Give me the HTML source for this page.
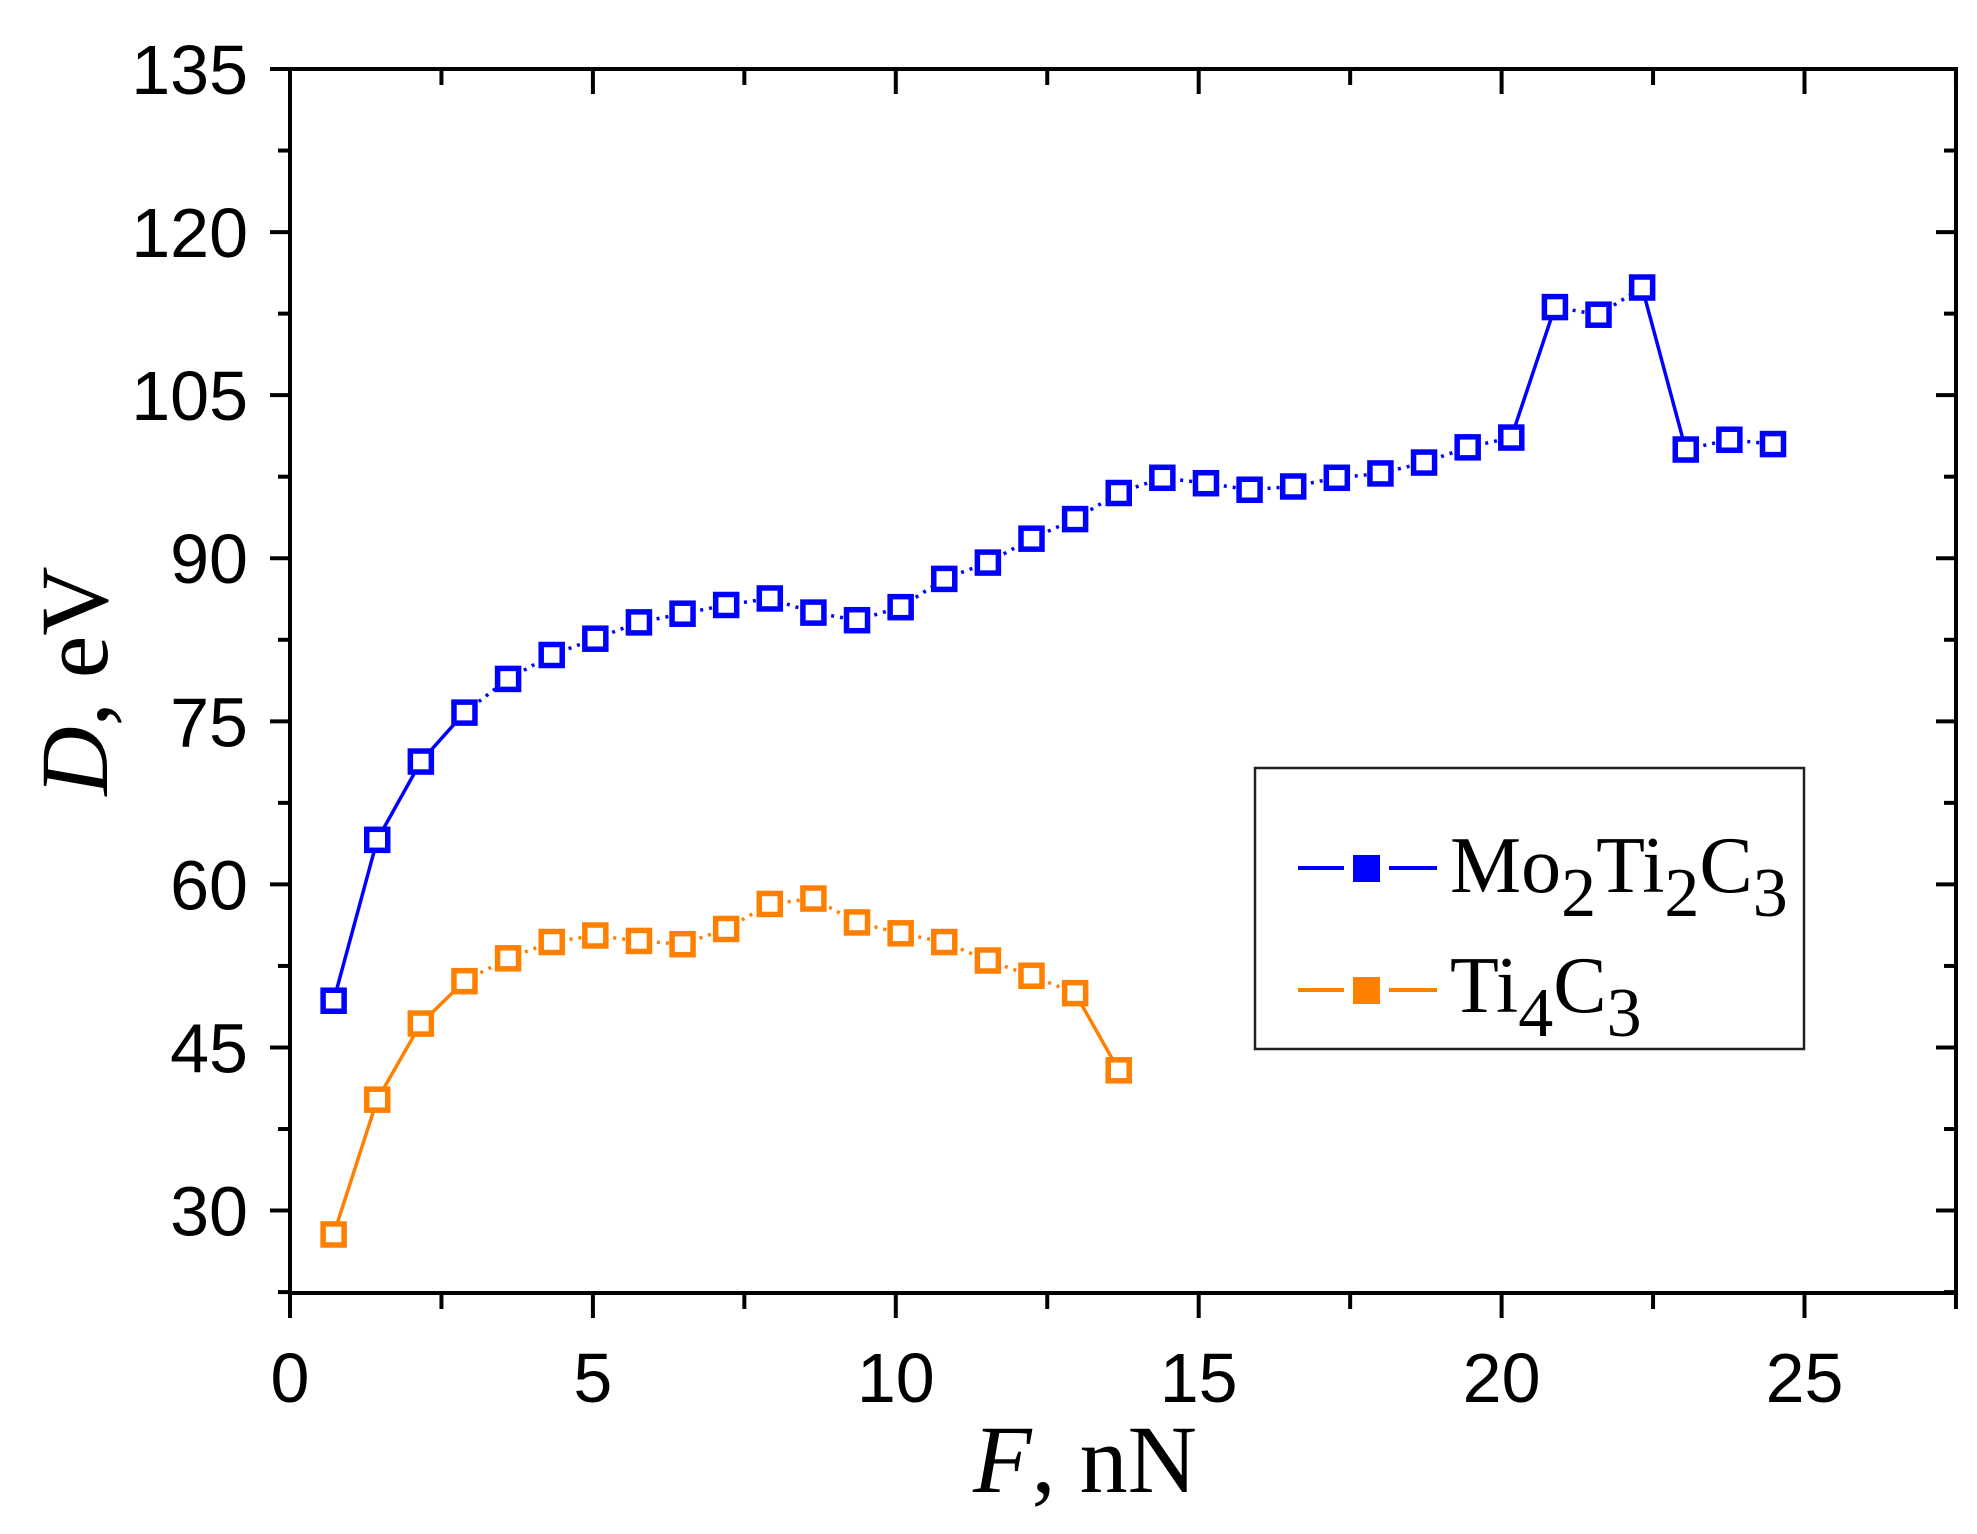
<!DOCTYPE html>
<html><head><meta charset="utf-8"><style>
html,body{margin:0;padding:0;background:#fff;}
svg{display:block;}
.tk{font-family:"Liberation Sans",Arial,sans-serif;font-size:70px;fill:#000;}
.tm{font-family:"Liberation Serif","Times New Roman",serif;fill:#000;}
</style></head><body>
<svg id="s" width="1977" height="1534" viewBox="0 0 1977 1534" xmlns="http://www.w3.org/2000/svg">
<rect width="1977" height="1534" fill="#fff"/>
<g id="ax" stroke="#000" stroke-width="4" fill="none"></g>
<g id="dat"></g>
<g id="lab"></g>
<rect x="1255" y="768" width="549" height="281" fill="none" stroke="#222" stroke-width="2.5"/>
<line x1="1298" y1="868" x2="1344" y2="868" stroke="#0000ff" stroke-width="4"/>
<line x1="1389" y1="868" x2="1437" y2="868" stroke="#0000ff" stroke-width="4"/>
<rect x="1353" y="855" width="27" height="27" fill="#0000ff"/>
<line x1="1298" y1="990" x2="1344" y2="990" stroke="#ff7f00" stroke-width="4"/>
<line x1="1389" y1="990" x2="1437" y2="990" stroke="#ff7f00" stroke-width="4"/>
<rect x="1353" y="977" width="27" height="27" fill="#ff7f00"/>
<text class="tm" x="1450" y="892" font-size="80">Mo<tspan font-size="70" dy="24">2</tspan><tspan dy="-24">Ti</tspan><tspan font-size="70" dy="24">2</tspan><tspan dy="-24">C</tspan><tspan font-size="70" dy="24">3</tspan></text>
<text class="tm" x="1450" y="1012" font-size="80">Ti<tspan font-size="70" dy="24">4</tspan><tspan dy="-24">C</tspan><tspan font-size="70" dy="24">3</tspan></text>
<text class="tm" x="1085" y="1492" font-size="96" text-anchor="middle"><tspan font-style="italic">F</tspan>, nN</text>
<text class="tm" font-size="96" text-anchor="middle" transform="translate(107,681) rotate(-90)"><tspan font-style="italic">D</tspan>, eV</text>
</svg>
<script>
const L=290,R=1956,T=69,B=1293;
const X=f=>290+f*60.58, Y=d=>69+(135-d)*10.872;
const ns="http://www.w3.org/2000/svg";
function el(p,t,a){const e=document.createElementNS(ns,t);for(const k in a)e.setAttribute(k,a[k]);p.appendChild(e);return e;}
const ax=document.getElementById('ax'),lab=document.getElementById('lab'),dat=document.getElementById('dat');
el(ax,'rect',{x:L,y:T,width:R-L,height:B-T});
for(let v=30;v<=135;v+=15){const y=Y(v);el(ax,'line',{x1:L-20,y1:y,x2:L,y2:y});el(ax,'line',{x1:R-20,y1:y,x2:R,y2:y});
 const t=el(lab,'text',{x:248,y:y+25,'text-anchor':'end',class:'tk'});t.textContent=v;}
for(let v=22.5;v<=135;v+=15){const y=Y(v);el(ax,'line',{x1:L-12,y1:y,x2:L,y2:y});el(ax,'line',{x1:R-12,y1:y,x2:R,y2:y});}
for(let v=0;v<=27.5;v+=2.5){const x=X(v);const maj=v%5===0;el(ax,'line',{x1:x,y1:B,x2:x,y2:B+(maj?25:16)});el(ax,'line',{x1:x,y1:T,x2:x,y2:T+(maj?25:16)});
 if(maj){const t=el(lab,'text',{x:x,y:1402,'text-anchor':'middle',class:'tk'});t.textContent=v;}}
const blue=[49.3,64.1,71.3,75.8,78.9,81.1,82.6,84.1,84.9,85.7,86.3,85.0,84.3,85.5,88.1,89.6,91.8,93.6,96.0,97.4,96.9,96.3,96.6,97.4,97.8,98.8,100.2,101.1,113.1,112.4,114.9,100.0,100.9,100.5];
const org=[27.8,40.2,47.2,51.1,53.2,54.7,55.3,54.8,54.5,55.9,58.2,58.7,56.5,55.5,54.7,53.0,51.6,50.0,42.9];
function series(d,c){const pts=d.map((v,i)=>[X(0.72*(i+1)),Y(v)]);
 for(let i=0;i<pts.length-1;i++){const big=Math.abs(d[i+1]-d[i])>3.5;
  el(dat,'line',{x1:pts[i][0],y1:pts[i][1],x2:pts[i+1][0],y2:pts[i+1][1],stroke:c,'stroke-width':3.5,'stroke-dasharray':big?'':'3 6'});}
 pts.forEach(p=>el(dat,'rect',{x:p[0]-10.5,y:p[1]-10.5,width:21,height:21,fill:'#fff',stroke:c,'stroke-width':5.5}));}
series(blue,'#0000ff');series(org,'#ff7f00');
</script>
</body></html>
